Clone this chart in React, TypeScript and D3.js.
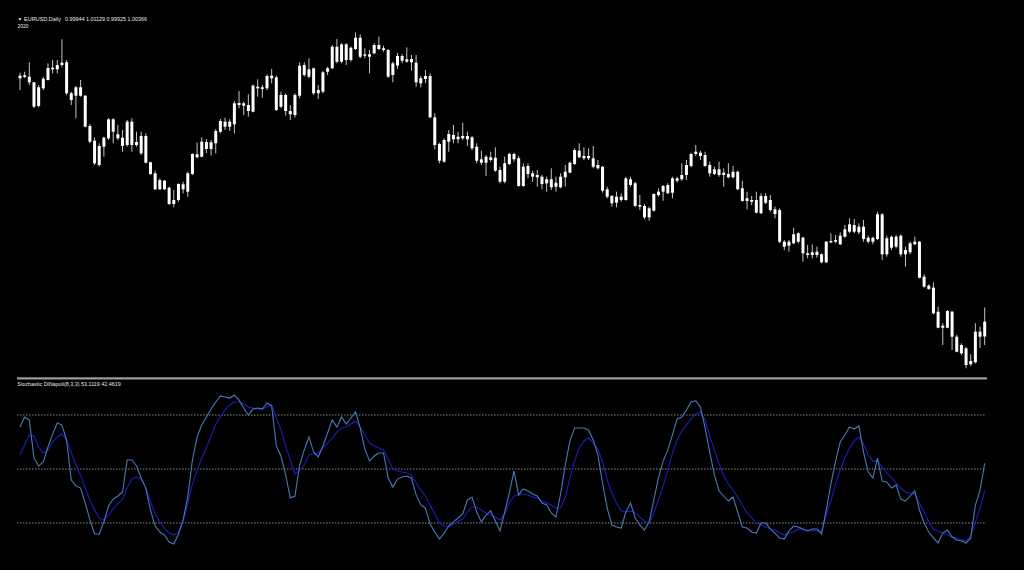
import React from "react";
import * as d3 from "d3";

// EURUSD Daily candles (price levels in chart units, higher = higher price)
const open = [324.3,323,323.3,317.7,294,311.7,320,330.7,330.7,335,337.7,306.7,304.3,312.7,304.3,274,259.3,235,253.3,261.7,280.7,265.7,262.3,255,278.3,255,264,264,237.7,226.7,210.7,219.3,212.3,196,200,215.7,208.3,226,245.7,243.3,258,251,256.7,268.3,278.3,273.3,275.7,297,294.3,295,288.3,313.3,311,311.7,324.3,322.7,293.3,305,289,285,304.3,335,323.3,331.7,310,308.3,328.3,331.7,353.3,338.3,355.7,340,351,362.3,345.7,343.3,346.7,355,351.7,350,325,334.5,344,340.7,337.7,337.3,316.7,321,324,282.7,256,238.3,258.3,265,260.7,264,260.7,262.7,253.3,240.7,237.3,242.7,242.3,230,218.3,236,246,241.7,214,234,226.7,225,223.3,216.7,220.7,217.3,212.7,222.7,227.3,236,249.3,244,241.7,241.7,235,233.3,210.7,204,197.3,203.3,200,220.7,216.7,195,194,182.7,189.3,205,208.3,215,207.3,219.3,220.7,225,234,246,247.3,245,235,226,230.7,227.3,226,222.7,228.3,211.7,201.7,198.3,200,186.7,204,200,190.7,190,158.3,154.3,156.7,166.7,162.3,146.7,145,145,145.7,137.7,157.7,158.3,155.7,163.3,168.3,175,173.3,173.3,162.3,158.3,161,185.7,145.7,152.3,163.3,164.3,145.7,147.7,155.7,158.3,123.3,114.3,112.3,88.3,74.3,72.3,88.3,63.3,55,51.7,35.7,37.7,68.3,63.5];
const high = [327.3,328.3,337.7,318,315,323.3,336.7,340,340,360.7,340,308.3,314,320,305,276,262.7,256.7,263.3,281.7,281.7,275,270,280,281.7,268.3,268.3,266.7,238.3,229.3,221.7,220,213.3,210,216.7,218.3,228.3,246.7,257.3,262.7,261,260,271,281,282.3,280.7,299,309,298.3,305.7,315.7,320.7,315,325.7,331,324.3,308.3,306.7,295,306.7,337.7,337.7,341.7,332.3,315,329,333.3,355,361,356.7,356.7,353.3,367.7,365.7,351.7,350,356.7,363.3,354.3,351,338.3,347,346,352.7,345,345,324,330,326.7,286.7,257.3,261.7,270,275,268.3,277.3,268.3,264,256.7,249.3,245,248.3,252.7,233.3,243.3,247.3,247.3,244,236.7,236.7,229.3,230,225,223.3,231.7,223.3,226.7,235,238.3,251.7,256.7,252.7,251.7,254,240,234,213.3,205,208.3,206.7,223.3,223.3,218.3,205,196,193.3,206.7,211.7,215,216.7,223.3,223.3,236.7,240,247.3,255,249.3,248.3,238.3,233.3,238.3,231.7,236.7,234,229.3,219.3,208.3,204,208.3,206.7,206.7,205,193.3,191.7,160,160,172.3,167.7,163.3,155,155.7,153.3,146.7,159,166.7,165,167.7,175,181.7,181,176.7,180,164.3,163.3,188.3,186.7,164.3,164.3,165,165.7,153.3,158.3,163.3,159,125.7,115.7,117.7,93.3,76.7,90,89,65,56.7,53.3,45.7,76.7,73.3,92.5];
const low = [310,322,315,292,293,310,319.5,326.7,326.7,332.7,305,295,281.7,303.3,272.7,256.7,235,233.3,243.3,260,256.7,260,248.3,253.3,248.3,253.3,245,236.7,225,210,210,210,195,192.7,198.3,206.7,203.3,225,241.7,242.7,247,244.3,246.7,266.7,270,269,266.7,291.7,285,283.3,287.7,303.3,302.3,310,316.7,289,291.7,284.3,280,282.3,301.7,323.3,321.7,305,301,306.7,325,331,336.7,336.7,335,338.3,350,341.7,341.7,326.7,345.7,350,348.3,322.3,317.7,331,336.7,337.3,329.3,313.3,312.7,316.7,281.7,250.7,236.7,237.3,248.3,256.7,256.7,260,254,250,236.7,235,224,238.3,228.3,216.7,216.7,235,238.3,213.3,213.3,221.7,218.3,213.3,210.7,208.3,210,208.3,211.7,213.3,226.7,235,241.7,240,240,231.7,230.7,207.3,201.7,193.3,192.7,198.3,199.3,213.3,193.3,190,180.7,179.3,188.3,203.3,199.3,206,201.7,217.3,219.3,220,232.7,244,240,233.3,223.3,225,223.3,213.3,221.7,221.7,210,198.3,190.7,195,186.7,186,196,188.3,181.7,156.7,150,148.3,155.7,156.7,138.3,141.7,141.7,142.3,136.7,136.7,156.7,156.7,155,162.3,166.7,166.7,165.7,158.3,156.7,155.7,160,140,143.3,150,151.7,143.3,133.3,145.7,155,121.7,112.3,110,85.7,71.7,55,71.7,50,47.7,45,31.7,34.3,36.7,52,55];
const close = [321.7,324.7,317.7,293.3,312.7,321.3,332,332.3,335,337.3,306.7,300,312.7,304.3,273.3,258.3,236.7,254,262.3,280.7,268.3,261.7,254,278.3,255,258,246.7,237.3,226,210.7,220,210.7,196,200,216,210.7,226.7,246,242.7,258.3,251,257.7,269,279,273.3,278.3,296.7,295,296.7,289,314.3,311.7,312.7,324,321.7,290,305,289,285.7,305,334.3,325,330.7,306.7,306.7,327.7,331.7,353.3,338.3,355.7,340,352.3,362.3,343.3,344.3,345.7,355,351,350,323.3,336.7,344,339.3,338.3,341,317.7,321.7,324,282.7,255,239.3,260,266,260.7,263.3,261.7,264,251.7,239.3,237.3,243.3,240,229.3,218.3,236.7,246,240.7,214,233.3,226,223.3,222.7,216,220.7,212.7,213.3,223.3,228.3,237.3,250,242.7,241.7,244,233.3,231.7,209.3,203.3,196.7,203.3,200,221.7,215,194,193.3,182.7,191.7,206,208.3,214,206.7,221.7,221.7,225,235,246,248.3,244,234,226.7,230.7,225,225,222.7,228.3,210.7,199,199,200,187.3,204,197.3,190,186,158.3,153.3,158.3,165.7,158.3,146.7,145,147.7,148.3,137.7,158.3,159,160,164.3,170.7,175.7,168.3,167.7,161,158.3,162.3,185.7,145.7,161.7,163.3,153.3,145.7,150,156.7,158.3,122.3,113.3,111,86.7,72.3,72.3,89,63.3,48.3,46.7,35,39,68.3,63.3,78.3];

// Stochastic DiNapoli(8,3,3)
const stochK = [73.3,78.9,77.2,56.1,51.7,53.9,62.2,69.4,75.6,74.4,66.1,43.9,40.6,39.4,31.1,21.7,13.9,13.9,20.6,29.4,33.3,35,37.2,55,55,51.7,45,39.4,27.2,18.3,15,13.3,9.4,8.3,13.9,21.7,34.4,55,67.8,74.4,78.9,83.3,87.2,90.6,90,89.4,91.1,88.3,83.9,80,83.3,83.9,83.3,86.7,85,62.8,57.2,46.7,33.9,35,52.2,60.6,67.8,59.4,56.7,62.8,70,77.2,73.3,78.9,75,78.3,81.7,72.8,61.1,54.4,57.2,58.9,58.9,45,40,44.4,45.6,46.1,45,35.6,30,28.3,19.4,15,11.1,14.4,18.3,20.6,22.8,25,32.8,34.4,26.1,20.6,24.4,26.7,21.1,15.6,26.1,36.7,48.9,35.6,38.9,37.8,36.1,35,31.1,30,25.6,23.3,36.1,52.2,65.6,72.8,72.8,72.8,71.7,66.1,57.8,42.2,28.3,18.9,17.8,17.2,26.1,31.1,22.8,18.9,16.1,20.6,32.8,45,54.4,60.6,68.9,77.8,78.9,82.8,87.2,87.8,84.4,72.8,59.4,46.7,37.8,35,32.2,34.4,26.1,17.8,17.2,15,14.4,20,20,16.7,14.4,11.7,11.1,15.6,18.3,17.8,16.7,15.6,16.7,16.7,13.9,27.2,41.7,54.4,65,68.9,73.3,72.2,73.9,59.4,48.3,45,56.1,43.3,42.8,39.4,41.1,33.3,32.2,35,37.8,27.2,20,15,11.7,8.9,14.4,16.1,12.2,10.6,10,8.9,11.7,30,38.3,53.1119];
const stochD = [57.8,63.3,68.9,68.3,62.2,58.9,60.6,65,67.8,69.4,66.1,58.9,52.2,46.7,39.4,32.8,27.2,22.8,21.7,24.4,27.8,30.6,33.3,39.4,44.4,45.6,44.4,39.4,31.7,25,20.6,17.2,14.4,13.3,15,20.6,30.6,41.7,49.4,56.1,61.7,68.3,75,78.9,82.8,85.6,87.2,87.2,86.1,84.4,83.9,83.3,83.3,84.4,85.6,78.3,71.7,62.8,55,47.2,49.4,52.2,57.8,58.3,58.9,61.7,64.4,67.2,70.6,72.8,73.3,75,76.7,73.3,68.9,64.4,62.8,61.7,60.6,55.6,50,48.9,48.3,47.8,46.7,42.2,38.3,35,30,25,20,18.3,17.8,19.4,21.1,22.2,26.1,28.9,28.9,27.2,25.6,24.4,23.3,21.7,25,31.1,35,35.6,36.1,35.6,34.4,33.9,32.2,31.1,30,28.3,28.3,34.4,45,54.4,61.7,65.6,67.2,64.4,61.1,53.9,43.9,36.7,31.1,26.7,26.1,26.7,25.6,23.3,21.1,20,25.6,32.8,40.6,49.4,58.9,66.1,71.1,74.4,77.8,80.6,81.7,77.2,68.3,60.6,52.8,46.1,41.7,38.3,34.4,30,25.6,22.8,20,18.9,17.8,16.7,16.1,14.4,13.3,14.4,15,16.7,16.1,16.1,15.6,15.6,15.6,24.4,32.2,41.7,49.4,56.1,61.7,65.6,67.8,63.9,57.8,54.4,54.4,51.1,47.8,45,42.2,39.4,37.2,36.7,36.1,31.1,26.1,20.6,16.7,15.6,14.4,13.3,12.2,11.7,10.6,10,12.8,20.6,28.3,38];
const stochLevels = [80, 50, 20];

const headerSymbol = "EURUSD,Daily";
const headerValues = "0.99944 1.01129 0.99925 1.00366";
const headerYear = "2020";
const stochLabel = "Stochastic DiNapoli(8,3,3) 53.1119 42.4619";

const W = 1024;
const H = 570;

export default function App() {
  const n = close.length;
  const x = d3.scaleLinear().domain([0, n - 1]).range([20, 984.7]);
  const yPrice = d3.scaleLinear().domain([0, 400]).range([400, 0]);
  const yStoch = d3.scaleLinear().domain([0, 100]).range([559, 379]);

  const line = d3
    .line<number>()
    .x((_, i) => x(i))
    .y((v) => yStoch(v));

  const font = "'Liberation Sans', Arial, sans-serif";
  const idx = d3.range(n);

  return (
    <>
      <style>{`html,body{margin:0;padding:0;background:#000;}`}</style>
      <svg
        width={W}
        height={H}
        style={{ position: "absolute", left: 0, top: 0, display: "block" }}
      >
        <rect x={0} y={0} width={W} height={H} fill="#000" />

        {/* header */}
        <path d="M18.2,18.2 L21.6,18.2 L19.9,20.8 Z" fill="#e8e8e8" />
        <text x={24} y={21} fontSize={5.8} fill="#e8e8e8" fontFamily={font} textLength={37} lengthAdjust="spacingAndGlyphs">
          {headerSymbol}
        </text>
        <text x={65} y={21} fontSize={5.8} fill="#e8e8e8" fontFamily={font} textLength={82} lengthAdjust="spacingAndGlyphs">
          {headerValues}
        </text>
        <text x={17.5} y={28.3} fontSize={5.8} fill="#e8e8e8" fontFamily={font} textLength={11} lengthAdjust="spacingAndGlyphs">
          {headerYear}
        </text>

        {/* candles */}
        <g>
          {idx.map((i) => {
            const cx = x(i);
            const top = yPrice(Math.max(open[i], close[i]));
            const bot = yPrice(Math.min(open[i], close[i]));
            return (
              <g key={i}>
                <line x1={cx} x2={cx} y1={yPrice(high[i])} y2={yPrice(low[i])} stroke="#c4c4c4" strokeWidth={1} />
                <rect x={cx - 1.5} y={top} width={3} height={Math.max(1, bot - top)} fill="#ffffff" />
              </g>
            );
          })}
        </g>

        {/* separator */}
        <rect x={17} y={377.3} width={970} height={2.2} fill="#9e9e9e" />

        {/* stochastic */}
        <text x={17.3} y={386.2} fontSize={5.8} fill="#e8e8e8" fontFamily={font} textLength={103.4} lengthAdjust="spacingAndGlyphs">
          {stochLabel}
        </text>
        {stochLevels.map((lv) => (
          <line
            key={lv}
            x1={17}
            x2={986}
            y1={yStoch(lv)}
            y2={yStoch(lv)}
            stroke="#8a8a8a"
            strokeWidth={1}
            strokeDasharray="1.5,1.5"
          />
        ))}
        <path d={line(stochD) || ""} fill="none" stroke="#1c1cc0" strokeWidth={1.1} />
        <path d={line(stochK) || ""} fill="none" stroke="#4a79b4" strokeWidth={1.1} />
      </svg>
    </>
  );
}
